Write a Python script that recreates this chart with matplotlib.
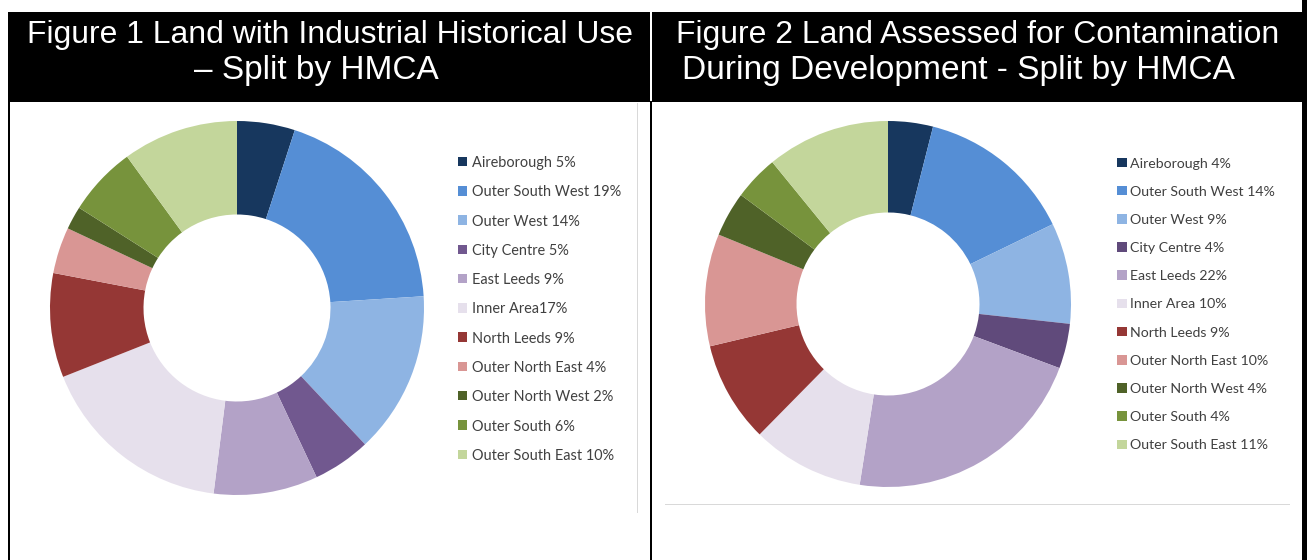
import matplotlib
matplotlib.use("Agg")
import matplotlib.pyplot as plt
from matplotlib.patches import Rectangle

W, H = 1307, 560
DPI = 100

# ---------------- data ----------------
categories = ["Aireborough", "Outer South West", "Outer West", "City Centre",
              "East Leeds", "Inner Area", "North Leeds", "Outer North East",
              "Outer North West", "Outer South", "Outer South East"]

fig1_values = [5, 19, 14, 5, 9, 17, 9, 4, 2, 6, 10]
fig1_labels = ["Aireborough 5%", "Outer South West 19%", "Outer West 14%",
               "City Centre 5%", "East Leeds 9%", "Inner Area17%",
               "North Leeds 9%", "Outer North East 4%", "Outer North West 2%",
               "Outer South 6%", "Outer South East 10%"]

fig2_values = [4, 14, 9, 4, 22, 10, 9, 10, 4, 4, 11]
fig2_labels = ["Aireborough 4%", "Outer South West 14%", "Outer West 9%",
               "City Centre 4%", "East Leeds 22%", "Inner Area 10%",
               "North Leeds 9%", "Outer North East 10%", "Outer North West 4%",
               "Outer South 4%", "Outer South East 11%"]

fig1_colors = ["#17375E", "#558ED5", "#8EB4E3", "#71588F", "#B3A2C7",
               "#E6E0EC", "#953735", "#D99694", "#4F6228", "#77933C", "#C3D69B"]
fig2_colors = ["#17375E", "#558ED5", "#8EB4E3", "#604A7B", "#B3A2C7",
               "#E6E0EC", "#953735", "#D99694", "#4F6228", "#77933C", "#C3D69B"]

title1 = ["Figure 1 Land with Industrial Historical Use", "\u2013 Split by HMCA"]
title2 = ["Figure 2 Land Assessed for Contamination", "During Development - Split by HMCA"]

# ---------------- figure ----------------
fig = plt.figure(figsize=(W / DPI, H / DPI), dpi=DPI)
fig.patch.set_facecolor("white")


def fx(px):
    return px / W


def fy(py):  # py measured from top
    return 1 - py / H


def rect(x0, y0, x1, y1, color):
    fig.patches.append(Rectangle((fx(x0), fy(y1)), fx(x1) - fx(x0), fy(y0) - fy(y1),
                                 transform=fig.transFigure, facecolor=color,
                                 edgecolor="none", zorder=0))


# header band and borders
rect(8, 12, 1303, 101.5, "black")
rect(650.3, 12, 651.8, 100.5, "white")
rect(8, 101, 10.3, 560, "black")
rect(649.5, 101, 652.3, 560, "black")
rect(1302, 0, 1307, 560, "black")
# faint chart-area borders
rect(637, 103, 638.2, 512.5, "#D9D9D9")
rect(665, 503.8, 1290, 505, "#D9D9D9")

renderer = fig.canvas.get_renderer()


def fitted_text(x, y, s, target_w, family, color, size0, ha="left", va="baseline"):
    t = fig.text(fx(x), fy(y), s, fontsize=size0, family=family, color=color,
                 ha=ha, va=va)
    w = t.get_window_extent(renderer).width
    t.set_fontsize(size0 * target_w / w)
    return t


# titles
t1 = fitted_text(330, 43.5, title1[0], 606, "Liberation Sans", "white", 23, ha="center")
fig.text(fx(316), fy(79.5), title1[1], fontsize=t1.get_fontsize() * 1.05,
         family="Liberation Sans", color="white", ha="center", va="baseline")
t2 = fitted_text(977.5, 43.5, title2[0], 605, "Liberation Sans", "white", 23, ha="center")
fig.text(fx(959), fy(79.5), title2[1], fontsize=t2.get_fontsize() * 1.05,
         family="Liberation Sans", color="white", ha="center", va="baseline")


# donuts
def donut(cx, cy, r, values, colors):
    ax = fig.add_axes([fx(cx - r), fy(cy + r), fx(2 * r), (2 * r) / H])
    ax.pie(values, colors=colors, startangle=90, counterclock=False, radius=1,
           wedgeprops=dict(width=0.5, edgecolor="none", linewidth=0))
    ax.set_xlim(-1, 1)
    ax.set_ylim(-1, 1)
    ax.set_aspect("equal")
    ax.axis("off")
    return ax


donut(237, 308, 187, fig1_values, fig1_colors)
donut(888, 304, 183, fig2_values, fig2_colors)


# legends
def legend(x_sq, x_txt, y_first, dy, sq, labels, colors, ref_w, ref_idx):
    size = None
    for i, (lab, col) in enumerate(zip(labels, colors)):
        yc = y_first + i * dy
        rect(x_sq, yc - sq / 2, x_sq + sq, yc + sq / 2, col)
        if size is None:
            t = fitted_text(x_txt, yc, labels[ref_idx], ref_w, "Lato", "#404040",
                            10, va="center_baseline")
            size = t.get_fontsize()
            t.remove()
        fig.text(fx(x_txt), fy(yc), lab, fontsize=size, family="Lato",
                 color="#404040", ha="left", va="center_baseline")


legend(457.5, 471.5, 161.5, 29.28, 9.5, fig1_labels, fig1_colors, 149, 1)
legend(1117, 1129.5, 162.5, 28.18, 9.5, fig2_labels, fig2_colors, 144.7, 1)

fig.savefig("out.png", dpi=DPI, facecolor="white")
